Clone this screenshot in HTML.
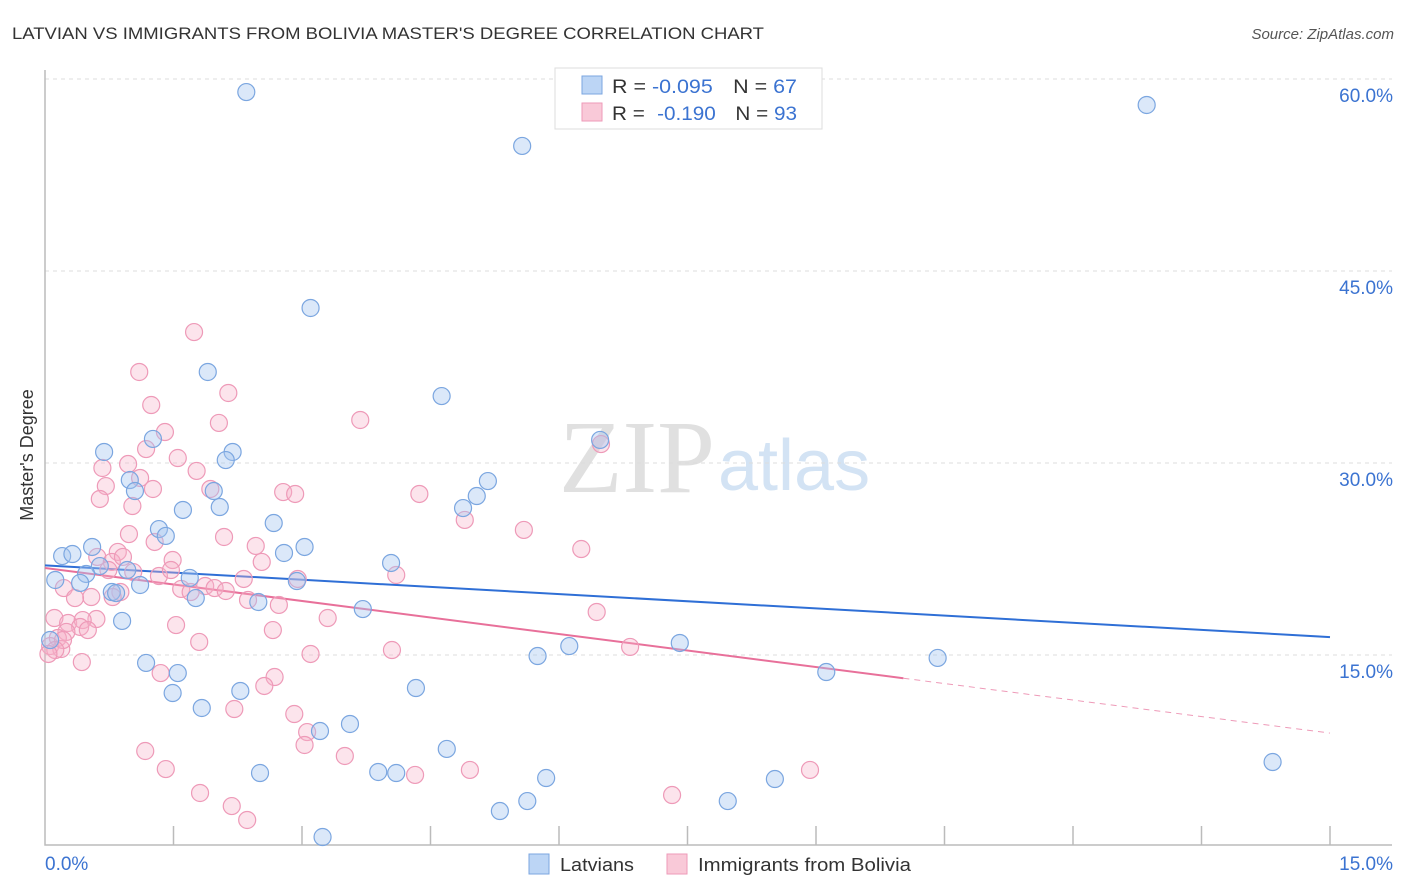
<!DOCTYPE html>
<html><head><meta charset="utf-8"><style>
body{margin:0;background:#fff;font-family:"Liberation Sans",sans-serif}
svg{display:block}
</style></head><body>
<svg id="chart" width="1406" height="892">
<text x="12" y="39" font-size="17" fill="#333" textLength="752" lengthAdjust="spacingAndGlyphs">LATVIAN VS IMMIGRANTS FROM BOLIVIA MASTER'S DEGREE CORRELATION CHART</text>
<text x="1394" y="39" font-size="15" fill="#555" font-style="italic" text-anchor="end">Source: ZipAtlas.com</text>
<text x="715" y="492" font-size="104" fill="#e0e0e0" text-anchor="end" font-family="Liberation Serif,serif">ZIP</text>
<text x="718" y="490" font-size="72" fill="#d3e3f4">atlas</text>
<text transform="translate(33,455) rotate(-90)" font-size="18" fill="#333" text-anchor="middle">Master's Degree</text>
<g id="grid"></g><g id="axes"></g><g id="lines"></g><g id="pts"></g>
<g>
<rect x="555" y="68" width="267" height="61" fill="#fff" stroke="#ddd"/>
<rect x="582" y="76" width="20" height="18" fill="#bcd5f5" stroke="#7ba6e0"/>
<rect x="582" y="103" width="20" height="18" fill="#f9c9d8" stroke="#ee9ab8"/>
<text x="612" y="93" font-size="19" fill="#333" textLength="185" lengthAdjust="spacingAndGlyphs">R = <tspan fill="#3b73d1">-0.095</tspan><tspan dx="18">N = </tspan><tspan fill="#3b73d1">67</tspan></text>
<text x="612" y="120" font-size="19" fill="#333" textLength="185" lengthAdjust="spacingAndGlyphs">R = <tspan dx="6" fill="#3b73d1">-0.190</tspan><tspan dx="18">N = </tspan><tspan fill="#3b73d1">93</tspan></text>
</g>
<g>
<rect x="529" y="854" width="20" height="20" fill="#bcd5f5" stroke="#7ba6e0"/>
<text x="560" y="871" font-size="18" fill="#333" textLength="74" lengthAdjust="spacingAndGlyphs">Latvians</text>
<rect x="667" y="854" width="20" height="20" fill="#f9c9d8" stroke="#ee9ab8"/>
<text x="698" y="871" font-size="18" fill="#333" textLength="213" lengthAdjust="spacingAndGlyphs">Immigrants from Bolivia</text>
</g>
</svg>
<script>
const yTicks=[15,30,45,60];
const xTickLabels=["0.0%","15.0%"];
const blueX=[2.35,12.86,5.57,3.10,1.90,4.63,6.48,1.26,0.69,2.19,2.11,5.17,0.99,1.97,1.05,5.04,4.88,1.61,2.04,2.67,1.33,1.41,0.55,0.20,0.32,3.03,2.79,4.04,0.64,0.48,0.96,0.41,1.69,2.94,1.11,0.78,0.83,1.76,2.49,3.71,0.90,0.12,0.06,7.41,6.12,5.75,10.42,1.18,1.55,9.12,2.28,4.33,1.49,1.83,3.56,3.21,4.69,2.51,3.89,4.10,5.85,8.52,14.33,5.63,7.97,5.31,3.24];
const blueY=[58.98,57.97,54.77,42.11,37.11,35.23,31.80,31.88,30.86,30.86,30.23,28.59,28.67,27.81,27.81,27.42,26.48,26.33,26.56,25.31,24.84,24.30,23.44,22.73,22.89,23.44,22.97,22.19,21.95,21.33,21.64,20.63,21.02,20.78,20.47,19.92,19.84,19.45,19.14,18.59,17.66,20.86,16.17,15.94,15.70,14.92,14.77,14.38,13.59,13.67,12.19,12.42,12.03,10.86,9.61,9.06,7.66,5.78,5.86,5.78,5.39,5.31,6.64,3.59,3.59,2.81,0.78];
const pinkX=[1.74,1.10,2.14,1.24,3.68,2.03,1.40,6.49,1.18,1.55,0.67,0.97,1.77,1.11,0.71,1.26,1.93,2.78,2.92,4.37,0.64,1.02,4.90,5.59,2.09,0.98,1.28,6.26,2.46,0.85,1.49,0.61,0.78,0.91,0.74,2.53,1.03,1.33,1.47,4.10,2.95,2.32,1.87,1.59,1.98,2.11,0.22,0.88,0.79,0.54,0.35,1.70,2.37,2.73,3.30,6.44,0.11,0.27,0.60,0.44,0.41,0.50,0.25,1.53,2.66,0.15,0.06,0.19,1.80,4.05,6.83,3.10,0.43,1.35,2.68,2.56,2.21,2.91,3.06,3.03,3.50,1.17,4.32,4.96,8.93,1.41,1.81,2.18,2.36,7.32,0.21,0.12,0.04];
const pinkY=[40.23,37.11,35.47,34.53,33.36,33.13,32.42,31.48,31.09,30.39,29.61,29.92,29.38,28.83,28.20,27.97,27.97,27.73,27.58,27.58,27.19,26.64,25.55,24.77,24.22,24.45,23.83,23.28,23.52,23.05,22.42,22.66,22.27,22.66,21.64,22.27,21.48,21.17,21.64,21.25,20.94,20.94,20.39,20.16,20.23,20.00,20.23,19.92,19.53,19.53,19.45,19.92,19.30,18.91,17.89,18.36,17.89,17.50,17.81,17.73,17.19,16.95,16.80,17.34,16.95,16.33,15.70,15.47,16.02,15.39,15.63,15.08,14.45,13.59,13.28,12.58,10.78,10.39,8.98,7.97,7.11,7.50,5.63,6.02,6.02,6.09,4.22,3.20,2.11,4.06,16.17,15.39,15.08];
const blueTrend=[22.0,16.4];
const pinkTrend=[21.8,8.9];
const pinkSolidEnd=10.02;
const NS="http://www.w3.org/2000/svg";
const sx=v=>45+v/15*1285;
const sy=v=>847-v/15*192;
function mk(p,t,a){const e=document.createElementNS(NS,t);for(const k in a)e.setAttribute(k,a[k]);document.getElementById(p).appendChild(e);return e;}
yTicks.forEach(t=>{
 const g=mk('grid','line',{x1:45,x2:1392,y1:sy(t),y2:sy(t),stroke:'#ddd','stroke-dasharray':'4,4'});
 
 
 const l=mk('grid','text',{x:1393,y:sy(t)+23,'font-size':19,fill:'#3b73d1','text-anchor':'end'});
 l.textContent=t.toFixed(1)+'%';
 
 
});
let a=mk('axes','path',{d:'M45 70V845H1392',stroke:'#bbb',fill:'none','stroke-width':1.5});


for(let i=1;i<=10;i++){const t=mk('axes','line',{x1:sx(i*1.5),x2:sx(i*1.5),y1:826,y2:845,stroke:'#bbb','stroke-width':1.5});
 
 }
let xl=mk('axes','text',{x:45,y:870,'font-size':19,fill:'#3b73d1'});xl.textContent=xTickLabels[0];


let xr=mk('axes','text',{x:1393,y:870,'font-size':19,fill:'#3b73d1','text-anchor':'end'});xr.textContent=xTickLabels[1];


function pts(X,Y,fill,stroke,name){X.forEach((x,i)=>{const c=mk('pts','circle',{cx:sx(x),cy:sy(Y[i]),r:8.5,fill:fill,stroke:stroke,'stroke-width':1.2});
 
 });}
pts(pinkX,pinkY,'rgba(246,178,201,0.35)','#ee9ab8','bolivia-point');
pts(blueX,blueY,'rgba(164,198,240,0.4)','#7ba6e0','latvian-point');
const bl=mk('lines','line',{x1:sx(0),y1:sy(blueTrend[0]),x2:sx(15),y2:sy(blueTrend[1]),stroke:'#2f6fd6','stroke-width':2});


const py=v=>pinkTrend[0]+(pinkTrend[1]-pinkTrend[0])*v/15;
const pl=mk('lines','line',{x1:sx(0),y1:sy(pinkTrend[0]),x2:sx(pinkSolidEnd),y2:sy(py(pinkSolidEnd)),stroke:'#e8709a','stroke-width':2});


const pd=mk('lines','line',{x1:sx(pinkSolidEnd),y1:sy(py(pinkSolidEnd)),x2:sx(15),y2:sy(pinkTrend[1]),stroke:'#ee9ab8','stroke-width':1,'stroke-dasharray':'6,5'});


</script>
</body></html>
